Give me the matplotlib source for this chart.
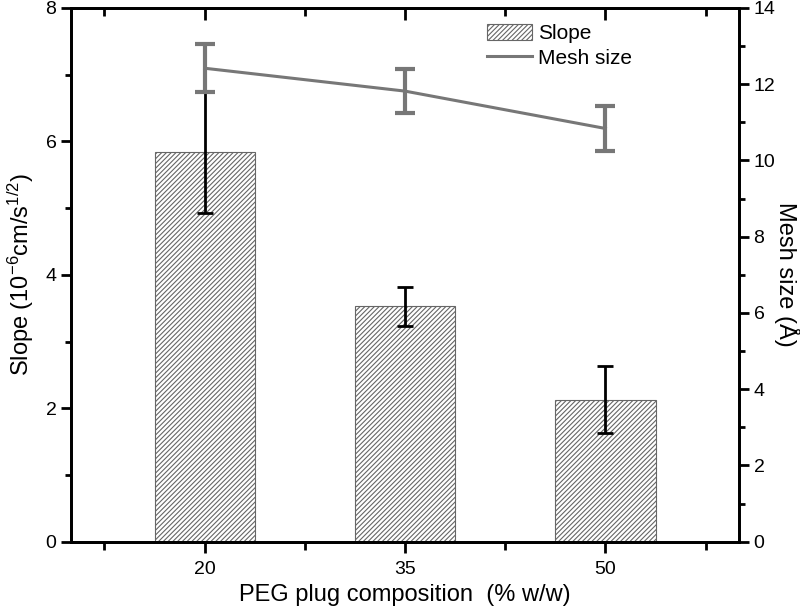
import matplotlib
matplotlib.use('Agg')
import matplotlib.pyplot as plt
from matplotlib.ticker import MultipleLocator

plt.rcParams['font.family'] = ['Liberation Sans', 'DejaVu Sans']
plt.rcParams['mathtext.fontset'] = 'custom'
plt.rcParams['mathtext.rm'] = 'Liberation Sans'
plt.rcParams['mathtext.it'] = 'Liberation Sans'
plt.rcParams['hatch.linewidth'] = 0.8
plt.rcParams['hatch.color'] = '#666666'

# data
peg = [20, 35, 50]
slope = [5.84, 3.53, 2.13]
slope_err = [0.91, 0.29, 0.50]
mesh = [12.42, 11.82, 10.84]
mesh_err = [0.63, 0.57, 0.58]

fig = plt.figure(figsize=(8, 6.1), dpi=100)
ax = fig.add_axes([71/800, 1 - 541.7/610, (739 - 71)/800, (541.7 - 8)/610])
ax2 = ax.twinx()

bars = ax.bar(peg, slope, width=7.5, color='white', edgecolor='#666666',
              hatch='///////', linewidth=0.8, label='Slope', zorder=2)
ax.errorbar(peg, slope, yerr=slope_err, fmt='none', ecolor='black',
            elinewidth=2, capsize=6, capthick=2, zorder=3)

line = ax2.errorbar(peg, mesh, yerr=mesh_err, color='#777777', lw=2.2,
                    elinewidth=3, capsize=7, capthick=3, label='Mesh size')

ax.set_xlim(10, 60)
ax.set_ylim(0, 8)
ax2.set_ylim(0, 14)
ax.set_xticks(peg)
ax.set_xticks([12.5, 27.5, 42.5, 57.5], minor=True)
ax.yaxis.set_major_locator(MultipleLocator(2))
ax.yaxis.set_minor_locator(MultipleLocator(1))
ax2.yaxis.set_major_locator(MultipleLocator(2))
ax2.yaxis.set_minor_locator(MultipleLocator(1))

# top ticks point inward, drawn by the twin's x axis
ax2.xaxis.set_visible(True)
ax2.xaxis.tick_top()
ax2.tick_params(axis='x', which='both', direction='in', labeltop=False,
                width=2, color='black')
ax2.tick_params(axis='x', which='major', length=8.5)
ax2.tick_params(axis='x', which='minor', length=5.5)

for a in (ax, ax2):
    for s in a.spines.values():
        s.set_linewidth(2)
ax.tick_params(axis='x', which='both', direction='out', labelsize=14, width=2, pad=6)
ax.tick_params(axis='x', which='major', length=8)
ax.tick_params(axis='x', which='minor', length=5.5)
ax.tick_params(axis='y', which='both', direction='out', right=False, labelsize=14, width=2)
ax.tick_params(axis='y', which='major', length=7)
ax.tick_params(axis='y', which='minor', length=4)
ax2.tick_params(axis='y', which='both', direction='out', labelsize=14, width=2)
ax2.tick_params(axis='y', which='major', length=7)
ax2.tick_params(axis='y', which='minor', length=4)

ax.set_xlabel('PEG plug composition  (% w/w)', fontsize=17, labelpad=4)
ax.set_ylabel('Slope (10$^{-6}$cm/s$^{1/2}$)', fontsize=17, labelpad=7)
ax2.set_ylabel('Mesh size (Å)', fontsize=17, rotation=270, labelpad=18)

ax.legend([bars, line[0]], ['Slope', 'Mesh size'], loc='upper left',
          bbox_to_anchor=(487/800, 1 - 24/610), bbox_transform=fig.transFigure,
          frameon=False, fontsize=15, handlelength=2.15, handleheight=0.8,
          labelspacing=0.25, handletextpad=0.3, borderpad=0, borderaxespad=0)

fig.savefig('out.png', dpi=100)
